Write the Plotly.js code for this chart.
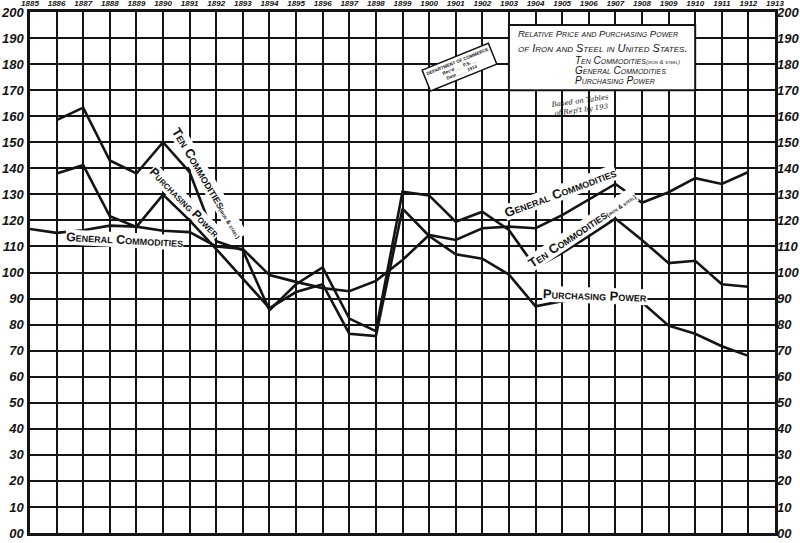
<!DOCTYPE html>
<html><head><meta charset="utf-8">
<script src="https://cdn.plot.ly/plotly-3.0.1.min.js"></script>
<style>html,body{margin:0;padding:0;background:#fff}#chart{width:800px;height:543px}</style>
</head><body><div id="chart"></div>
<script>
// ---- data ----
const years = [1885,1886,1887,1888,1889,1890,1891,1892,1893,1894,1895,1896,1897,1898,1899,
               1900,1901,1902,1903,1904,1905,1906,1907,1908,1909,1910,1911,1912];
const tenCommodities = [null,158.5,163.3,143,138,150,138.5,112,108.5,85.5,95.5,102,82.3,77.5,131,
               129.6,119.5,123.3,116.3,101.9,107.5,114,120.7,112.5,103.6,104.5,95.5,94.5];
const generalCommodities = [116.7,115.2,116.2,118,117.6,116,115.5,110,109,99,96.4,94,92.8,96.8,104.8,
               114.4,112.5,117,117.6,117,122,128,134,126.8,130.8,136.2,134,138.6];
const purchasingPower = [null,138,141.2,121.6,117.5,129.9,120,109,97.5,86.3,92.5,95.5,76.5,75.6,124.5,
               114,107,105.3,99.2,87,89,89.8,90.7,88.6,79.6,76.5,71.7,68];
const xTickVals = [1885,1886,1887,1888,1889,1890,1891,1892,1893,1894,1895,1896,1897,1898,1899,
               1900,1901,1902,1903,1904,1905,1906,1907,1908,1909,1910,1911,1912,1913];
const xTickText = xTickVals.map(String);
const yTickVals = [0,10,20,30,40,50,60,70,80,90,100,110,120,130,140,150,160,170,180,190,200];
const yTickText = ['00','10','20','30','40','50','60','70','80','90','100','110','120','130','140',
               '150','160','170','180','190','200'];

const INK = '#141414';
const lineStyle = {color: INK, width: 2.6, shape: 'linear'};
function tr(y, name, yax){ return {x: years, y: y, name: name, type: 'scatter', mode: 'lines', yaxis: yax,
  line: lineStyle, connectgaps: false, hoverinfo: 'skip', showlegend: false}; }
const data = [tr(generalCommodities,'General Commodities','y'), tr(tenCommodities,'Ten Commodities (Iron & Steel)','y'),
              tr(purchasingPower,'Purchasing Power','y2')];

const handFont = 'Liberation Sans, Arial, sans-serif';
function lab(text, x, y, angle, size, xs, ys){
  return {text: text, x: x, y: y, xref: 'x', yref: 'y', showarrow: false,
    textangle: angle, bgcolor: '#ffffff', borderpad: 0, xshift: xs||0, yshift: ys||0,
    font: {family: handFont, size: size, color: INK, weight: 'bold', variant: 'small-caps'}};
}
const boxFont = (s)=>({family: handFont, size: s, color: INK, style:'italic', variant:'small-caps'});
const annotations = [
  lab('Ten Commodities<span style="font-size:6px">(iron & steel)</span>', 1891.45, 133, 59, 13, 6, 4),
  lab('Purchasing Power', 1890.6, 125, 45, 12, 5, 5),
  lab('General Commodities', 1888.55, 112.3, 3, 12.5, 0, 0),
  lab('General Commodities', 1905.0, 128.6, -20.5, 13, -2, 6),
  lab('Ten Commodities<span style="font-size:6px">(iron & steel)</span>', 1905.85, 114.6, -34, 13, -3, 5),
  lab('Purchasing Power', 1906.25, 90.8, 2, 13, 0, 1),
  // legend box text
  {text: 'Relative Price and Purchasing Power', x: 1903.25, y: 191.8, xref:'x', yref:'y', xanchor:'left',
   showarrow:false, font: boxFont(9.5)},
  {text: 'of Iron and Steel in United States.', x: 1903.25, y: 186.2, xref:'x', yref:'y', xanchor:'left',
   showarrow:false, font: boxFont(11)},
  {text: 'Ten Commodities<span style="font-size:6px">(iron & steel)</span>', x: 1905.4, y: 181.2, xref:'x', yref:'y', xanchor:'left',
   showarrow:false, font: boxFont(10)},
  {text: 'General Commodities', x: 1905.4, y: 177.4, xref:'x', yref:'y', xanchor:'left',
   showarrow:false, font: boxFont(10)},
  {text: 'Purchasing Power', x: 1905.4, y: 173.6, xref:'x', yref:'y', xanchor:'left',
   showarrow:false, font: boxFont(10)},
  // handwritten note
  {text: 'Based on Tables<br>of Rep\'t by 193', x: 1905.7, y: 164, xref:'x', yref:'y',
   showarrow:false, textangle: -8, font:{family:'DejaVu Serif, serif', size: 7, color: INK, style:'italic'}},
  // stamp
  {text: 'DEPARTMENT OF COMMERCE<br>Rec\'d ___ P.S. __<br>Date ____ 1914', x: 1901.15, y: 178.8, xref:'x', yref:'y',
   showarrow:false, textangle: -22, bgcolor:'#ffffff', bordercolor: INK, borderwidth: 1.5, borderpad: 2,
   font:{family: handFont, size: 4.5, color: INK, weight:'bold'}}
];

const axisCommon = {showgrid: true, gridcolor: INK, gridwidth: 2, showline: true, linecolor: INK,
  linewidth: 2.6, mirror: true, zeroline: false, ticks: '', fixedrange: true};
const layout = {
  width: 800, height: 543,
  paper_bgcolor: '#ffffff', plot_bgcolor: '#ffffff',
  margin: {l: 30, r: 25, t: 12, b: 10},
  showlegend: false,
  xaxis: Object.assign({}, axisCommon, {range: [1885, 1913], side: 'top', tickmode: 'array',
    tickvals: xTickVals, ticktext: xTickText, ticklabelstandoff: 0,
    tickfont: {family: handFont, size: 8, color: INK, style: 'italic', weight: 'bold'}}),
  yaxis: Object.assign({}, axisCommon, {range: [0, 200], tickmode: 'array', tickvals: yTickVals,
    ticktext: yTickText, ticklabelstandoff: 1,
    tickfont: {family: handFont, size: 13, color: INK, style: 'italic', weight: 'bold'}}),
  yaxis2: {overlaying: 'y', side: 'right', range: [0, 200], tickmode: 'array', tickvals: yTickVals,
    ticktext: yTickText, showgrid: false, zeroline: false, showline: false, ticks: '', fixedrange: true,
    ticklabelstandoff: 1,
    tickfont: {family: handFont, size: 13, color: INK, style: 'italic', weight: 'bold'}},
  shapes: [{type: 'rect', xref: 'x', yref: 'y', x0: 1903, x1: 1910, y0: 170, y1: 195,
    fillcolor: '#ffffff', line: {color: INK, width: 2}, layer: 'above'}],
  annotations: annotations
};
Plotly.newPlot('chart', data, layout, {staticPlot: true, displayModeBar: false});
</script></body></html>
